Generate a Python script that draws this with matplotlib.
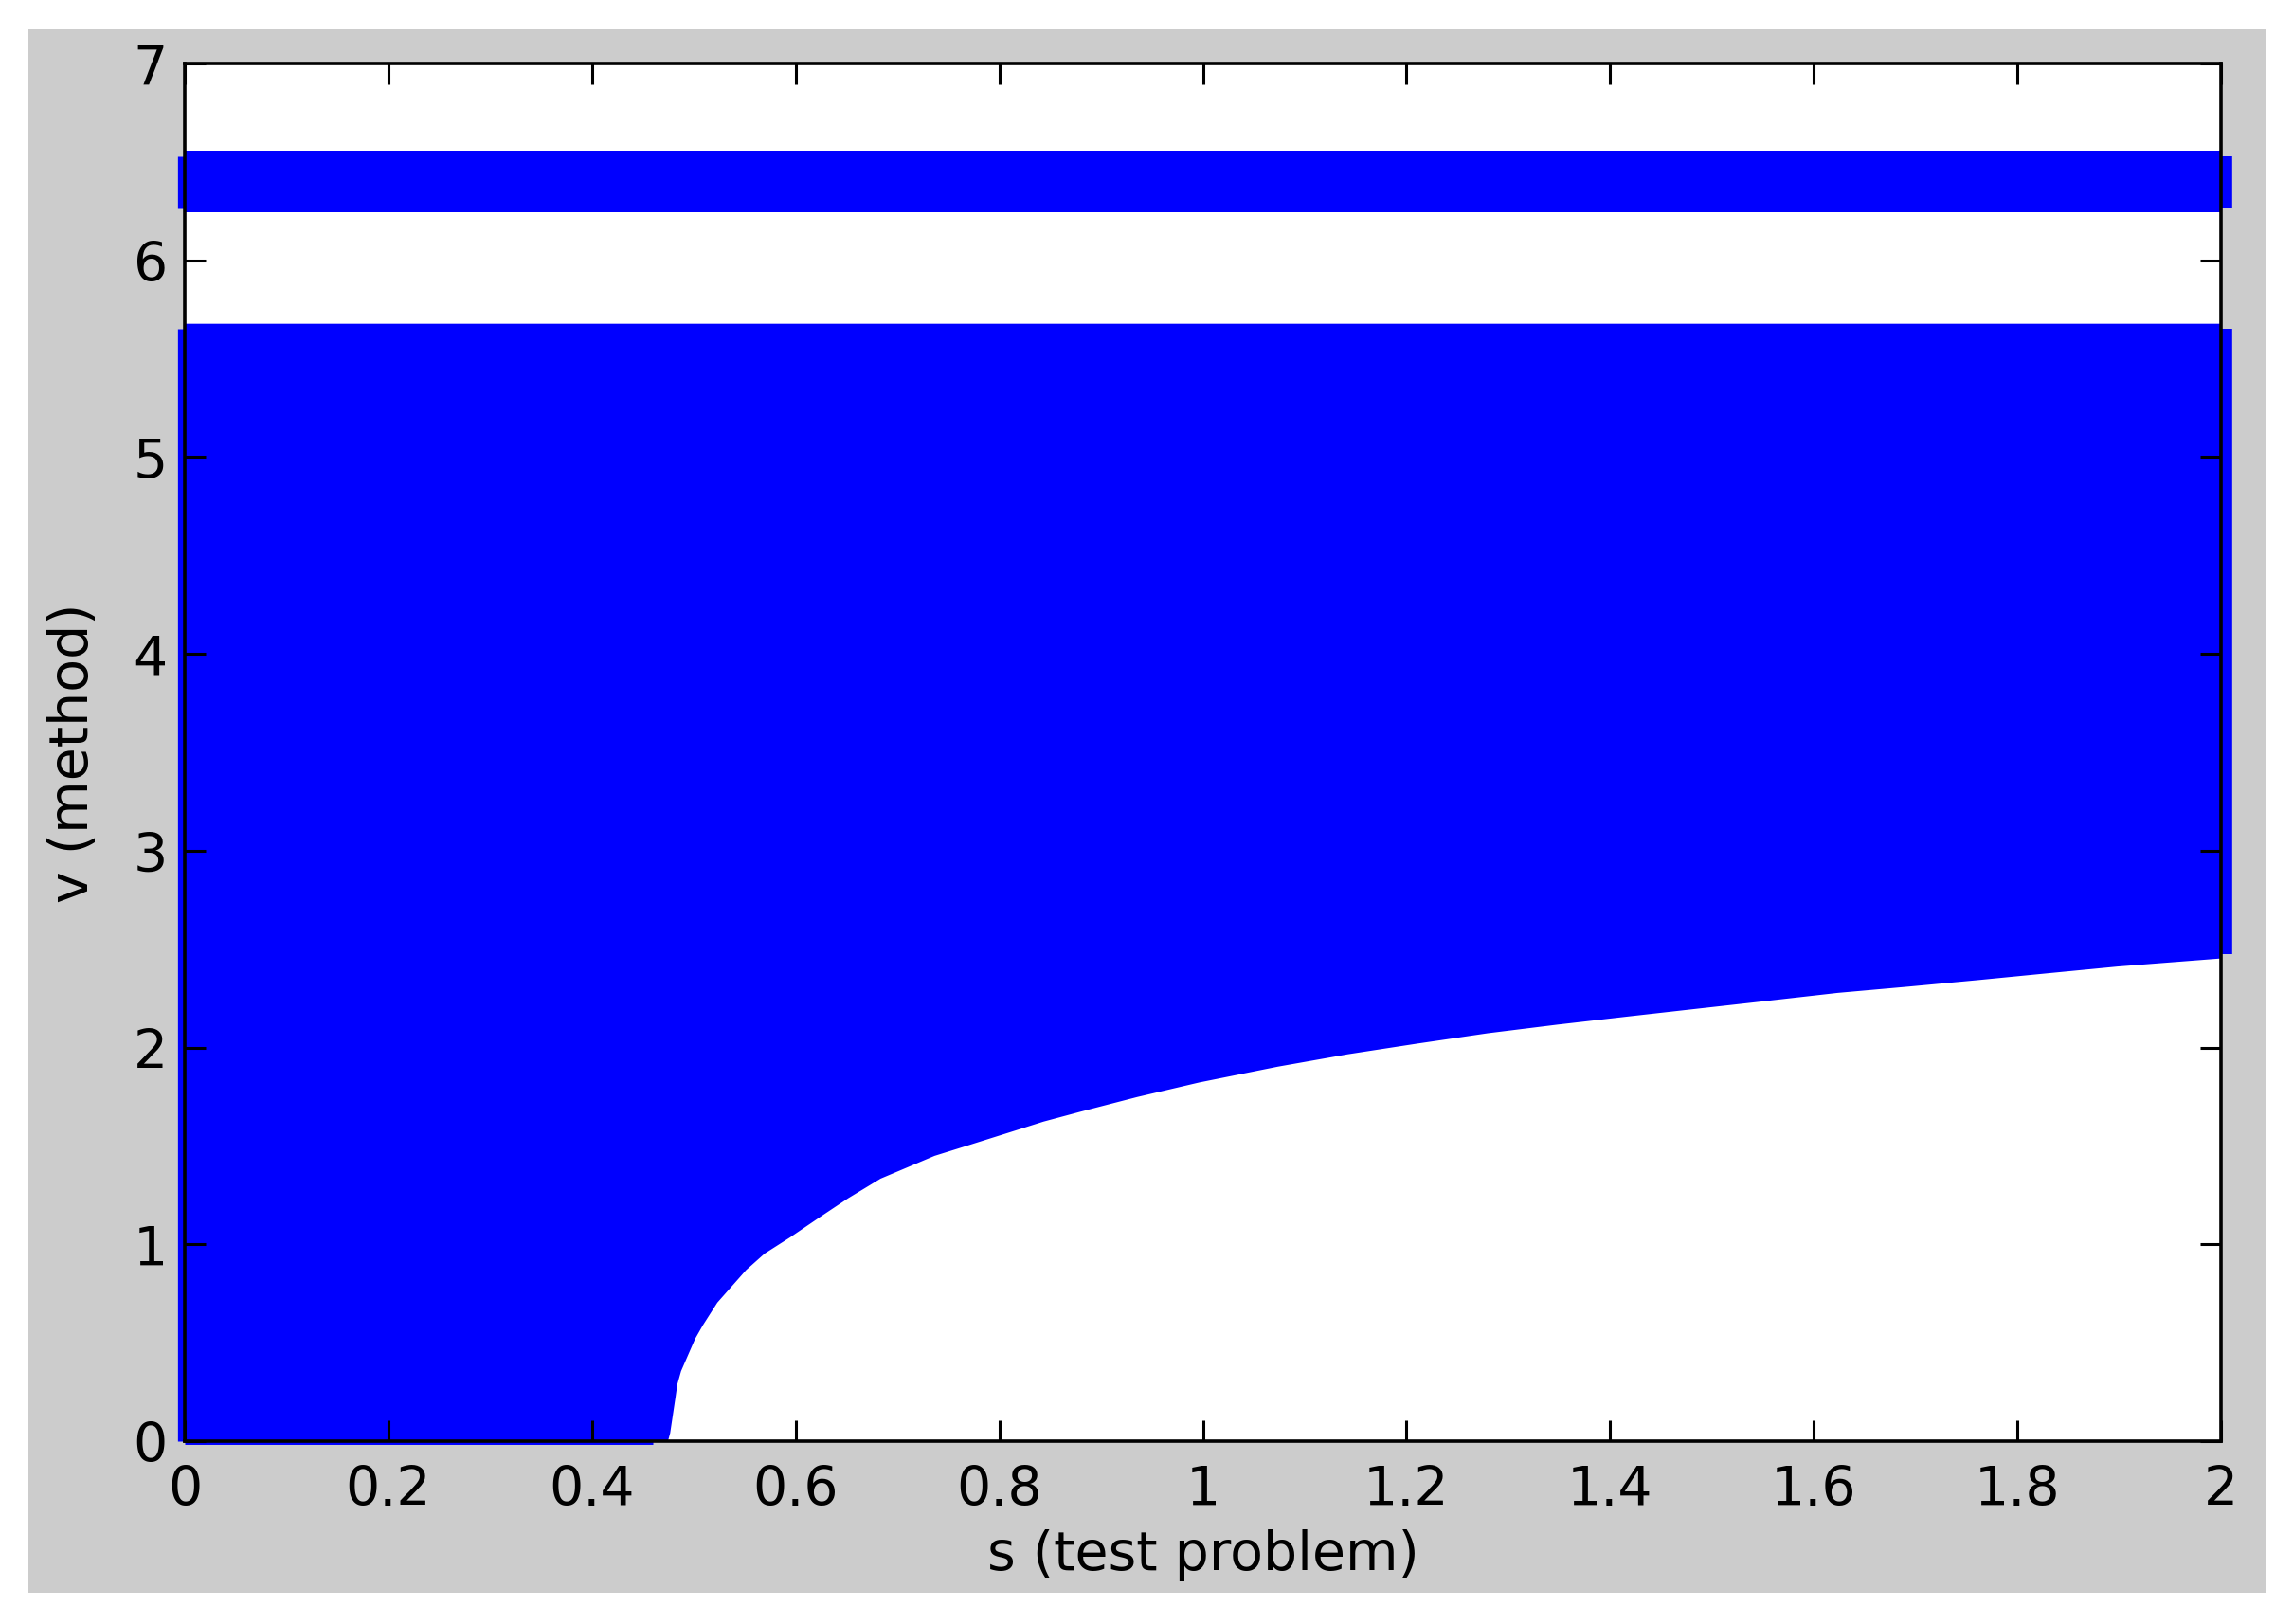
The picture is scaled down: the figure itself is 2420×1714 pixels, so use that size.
import numpy as np
import matplotlib
matplotlib.use('Agg')
import matplotlib.pyplot as plt
from matplotlib.patches import Rectangle

# lower boundary of the big blue region (s, v)
s_curve = [0.0, 0.474, 0.4763, 0.4816, 0.4834, 0.487, 0.494, 0.501, 0.5083,
           0.5226, 0.5368, 0.551, 0.569, 0.594, 0.6223, 0.651, 0.6829, 0.736,
           0.7719, 0.8075, 0.843, 0.879, 0.935, 0.996, 1.073,
           1.1418, 1.2104, 1.2795, 1.348, 1.4171, 1.4857, 1.5548, 1.623, 1.6925,
           1.761, 1.830, 1.898, 2.0]
v_curve = [0.0, 0.0, 0.043, 0.226, 0.292, 0.358, 0.441, 0.524, 0.590,
           0.706, 0.789, 0.872, 0.955, 1.0375, 1.137, 1.236, 1.336, 1.452,
           1.510, 1.568, 1.626, 1.676, 1.751, 1.825, 1.905,
           1.968, 2.0226, 2.075, 2.119, 2.160, 2.200, 2.240, 2.280, 2.312,
           2.345, 2.380, 2.414, 2.455]

main_top = 5.68          # top of the large region
band_low = 6.245         # upper stripe
band_high = 6.557

xticks = [0, 0.2, 0.4, 0.6, 0.8, 1, 1.2, 1.4, 1.6, 1.8, 2]
xticklabels = ['0', '0.2', '0.4', '0.6', '0.8', '1', '1.2', '1.4', '1.6', '1.8', '2']
yticks = [0, 1, 2, 3, 4, 5, 6, 7]

blue = '#0000ff'
grey = '#cccccc'

fig = plt.figure(figsize=(24.2, 17.15), dpi=100)
fig.patch.set_facecolor('white')
# grey matlab-style figure area with white margin
bg = Rectangle((30 / 2420, 1 - 1682 / 1715), (2392 - 30) / 2420,
               (1682 - 32) / 1715, transform=fig.transFigure,
               facecolor=grey, edgecolor='none', zorder=-5)
fig.add_artist(bg)

ax = fig.add_axes([195 / 2420, 1 - 1522 / 1715, (2344 - 195) / 2420, (1522 - 68) / 1715])
ax.set_facecolor('white')

s = np.array(s_curve)
v = np.array(v_curve)
ax.fill_between(s, v, main_top, color=blue, linewidth=0)
ax.fill_between(s, band_low, band_high, color=blue, linewidth=0)

# the dots spill a little over the edges of the box
ax.vlines([s[-1], s[-1]], [v[-1] + 0.02, band_low + 0.02], [main_top - 0.03, band_high - 0.03],
          color=blue, linewidth=17, clip_on=False, zorder=1)
ax.vlines([s[0], s[0]], [v[0], band_low + 0.02], [main_top - 0.03, band_high - 0.03],
          color=blue, linewidth=11, clip_on=False, zorder=1)
ax.hlines([0.0], [s[0]], [0.46], color=blue, linewidth=5, clip_on=False, zorder=1)

ax.set_xlim(0, 2)
ax.set_ylim(0, 7)
ax.set_xticks(xticks)
ax.set_xticklabels(xticklabels)
ax.set_yticks(yticks)

for sp in ax.spines.values():
    sp.set_linewidth(2.6)
    sp.set_color('black')
    sp.set_zorder(3)

ax.tick_params(direction='in', length=15.5, width=2.2, top=True, right=True,
               labelsize=41, colors='black')
ax.tick_params(axis='x', pad=17)
ax.tick_params(axis='y', pad=13)

ax.set_xlabel('s (test problem)', fontsize=41)
ax.set_ylabel('v (method)', fontsize=41)
ax.xaxis.label.set_verticalalignment('center')
ax.yaxis.label.set_verticalalignment('center')
ax.xaxis.set_label_coords(0.5, -0.0825)
ax.yaxis.set_label_coords(-0.0549, 0.5)

fig.savefig('out.png', dpi=100, facecolor=fig.get_facecolor())
